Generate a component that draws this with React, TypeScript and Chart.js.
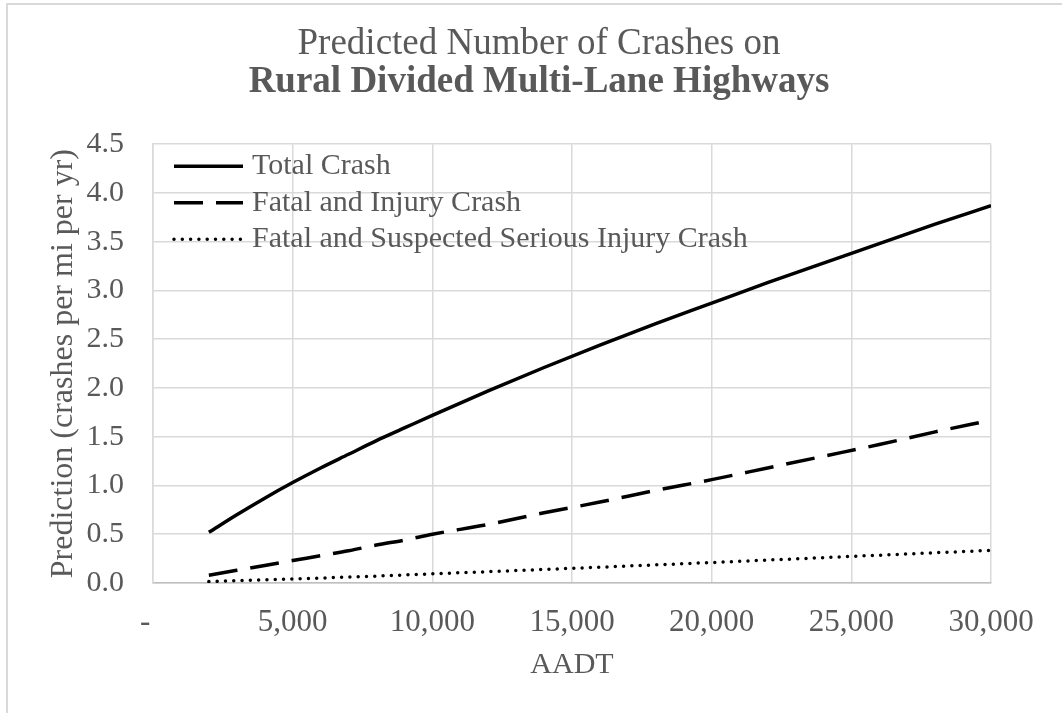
import React, { useEffect, useRef } from "react";
import { Chart, registerables } from "chart.js";

Chart.register(...registerables);

const aadt = [2000, 3000, 4000, 5000, 6000, 7000, 8000, 9000, 10000, 12000, 14000, 16000, 18000, 20000, 22000, 24000, 26000, 28000, 30000];
const totalCrash = [0.52, 0.70, 0.87, 1.03, 1.18, 1.32, 1.46, 1.59, 1.72, 1.97, 2.21, 2.44, 2.66, 2.87, 3.08, 3.28, 3.48, 3.68, 3.87];
const fatalInjury = [0.08, 0.13, 0.18, 0.23, 0.28, 0.33, 0.39, 0.44, 0.50, 0.60, 0.72, 0.83, 0.95, 1.06, 1.18, 1.30, 1.42, 1.55, 1.67];
const fatalSerious = [0.015, 0.024, 0.033, 0.042, 0.051, 0.061, 0.071, 0.082, 0.094, 0.116, 0.139, 0.162, 0.186, 0.21, 0.235, 0.26, 0.285, 0.31, 0.335];
const seriesLabels = ["Total Crash", "Fatal and Injury Crash", "Fatal and Suspected Serious Injury Crash"];
const titleLine1 = "Predicted Number of Crashes on";
const titleLine2 = "Rural Divided Multi-Lane Highways";
const xTitle = "AADT";
const yTitle = "Prediction (crashes per mi per yr)";

const FONT = '"Liberation Serif", "Times New Roman", serif';
const TEXT = "#595959";
const GRID = "#d9d9d9";

const legendPlugin = {
  id: "insideLegend",
  afterDatasetsDraw(chart: any) {
    const { ctx, chartArea } = chart;
    const x0 = chartArea.left + 21;
    const len = 69;
    chart.data.datasets.forEach((ds: any, i: number) => {
      const y = chartArea.top + 22 + i * 36.5;
      ctx.save();
      ctx.strokeStyle = ds.borderColor;
      ctx.lineWidth = ds.borderWidth;
      ctx.setLineDash(ds.borderDash || []);
      ctx.lineCap = ds.borderCapStyle || "butt";
      ctx.beginPath();
      ctx.moveTo(x0, y);
      ctx.lineTo(x0 + len, y);
      ctx.stroke();
      ctx.setLineDash([]);
      ctx.fillStyle = TEXT;
      ctx.font = `30px ${FONT}`;
      ctx.textBaseline = "middle";
      ctx.textAlign = "left";
      ctx.fillText(ds.label, x0 + len + 9, y);
      ctx.restore();
    });
  },
};

export default function App() {
  const ref = useRef<HTMLCanvasElement>(null);
  useEffect(() => {
    if (!ref.current) return;
    const mk = (vals: number[]) => aadt.map((x, i) => ({ x, y: vals[i] }));
    const chart = new Chart(ref.current, {
      type: "line",
      data: {
        datasets: [
          {
            label: seriesLabels[0],
            data: mk(totalCrash),
            borderColor: "#000",
            borderWidth: 3.5,
            pointRadius: 0,
            cubicInterpolationMode: "monotone",
          },
          {
            label: seriesLabels[1],
            data: mk(fatalInjury),
            borderColor: "#000",
            borderWidth: 3.5,
            borderDash: [29, 13],
            pointRadius: 0,
            cubicInterpolationMode: "monotone",
          },
          {
            label: seriesLabels[2],
            data: mk(fatalSerious),
            borderColor: "#000",
            borderWidth: 3.5,
            borderDash: [0, 8.3],
            borderCapStyle: "round",
            pointRadius: 0,
            cubicInterpolationMode: "monotone",
          },
        ],
      } as any,
      options: {
        animation: false,
        responsive: false,
        layout: { padding: { top: 0, left: 16, right: 0, bottom: 0 } },
        plugins: {
          legend: { display: false },
          tooltip: { enabled: false },
          title: {
            display: true,
            text: titleLine1,
            color: TEXT,
            font: { family: FONT, size: 37, weight: "normal", lineHeight: 1.03 },
            padding: { top: 25, bottom: 0 },
          },
          subtitle: {
            display: true,
            text: titleLine2,
            color: TEXT,
            font: { family: FONT, size: 37, weight: "bold", lineHeight: 1.03 },
            padding: { top: 0, bottom: 43 },
          },
        },
        scales: {
          x: {
            type: "linear",
            min: 0,
            max: 30000,
            ticks: {
              stepSize: 5000,
              color: TEXT,
              font: { family: FONT, size: 31 },
              padding: 21,
              maxRotation: 0,
              callback: (v: any) => (Number(v) === 0 ? "-  " : Number(v).toLocaleString("en-US")),
            },
            grid: { color: GRID, lineWidth: 1.5, drawTicks: false },
            border: { color: "#bfbfbf", width: 1.5 },
            title: {
              display: true,
              text: xTitle,
              color: TEXT,
              font: { family: FONT, size: 30 },
              padding: { top: 0, bottom: 30 },
            },
            afterFit: (s: any) => {
              s.height = 713 - 583;
            },
          },
          y: {
            min: 0,
            max: 4.5,
            ticks: {
              stepSize: 0.5,
              color: TEXT,
              font: { family: FONT, size: 30 },
              padding: 29,
              callback: (v: any) => Number(v).toFixed(1),
            },
            grid: { color: GRID, lineWidth: 1.5, drawTicks: false },
            border: { color: GRID, width: 1.5 },
            title: {
              display: true,
              text: yTitle,
              color: TEXT,
              font: { family: FONT, size: 32 },
              padding: { top: 28, bottom: 0 },
            },
            afterFit: (s: any) => {
              s.width = 153 - 16;
            },
          },
          yRight: {
            position: "right",
            display: true,
            grid: { display: false, drawTicks: false },
            border: { display: false },
            ticks: { display: false },
            afterFit: (s: any) => {
              s.width = 1062 - 991;
            },
          },
        },
      } as any,
      plugins: [legendPlugin],
    });
    return () => chart.destroy();
  }, []);

  return (
    <>
      <div
        style={{
          position: "fixed",
          left: 6,
          top: 3,
          width: 2000,
          height: 2000,
          border: `2px solid ${GRID}`,
          boxSizing: "border-box",
        }}
      />
      <div style={{ position: "fixed", left: 0, top: 0, width: 1062, height: 713 }}>
        <canvas ref={ref} width={1062} height={713} style={{ width: 1062, height: 713 }} />
      </div>
    </>
  );
}
